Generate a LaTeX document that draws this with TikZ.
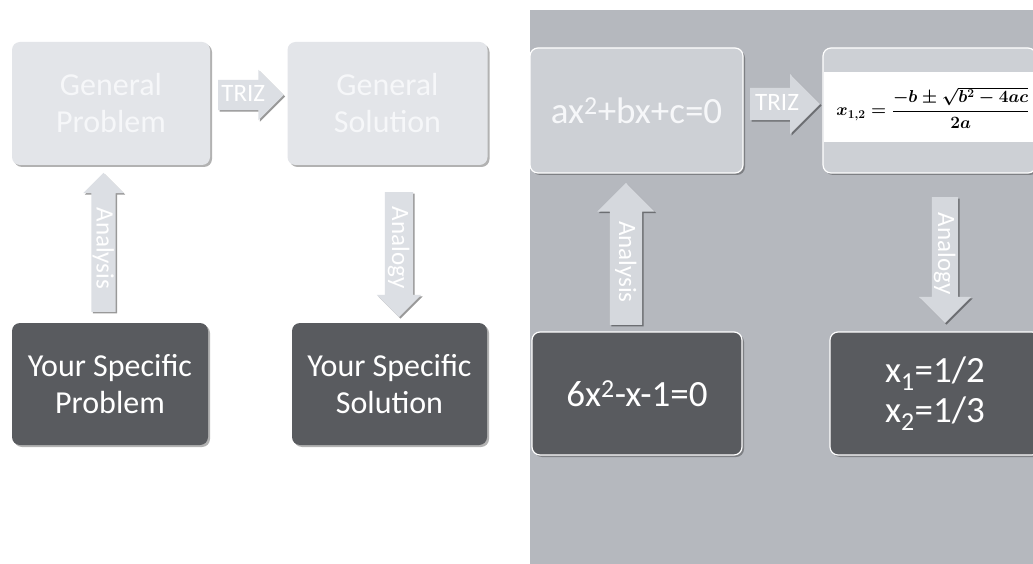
\documentclass[tikz,border=0pt]{standalone}
\usepackage{amsmath}
\usepackage{fontspec}
\setmainfont{Carlito}
\usetikzlibrary{shapes.arrows,shadows}

\definecolor{panelgray}{HTML}{B5B8BE}
\definecolor{paleL}{HTML}{E3E5E9}
\definecolor{paleR}{HTML}{CDD0D5}
\definecolor{darkfill}{HTML}{595B5F}
\definecolor{arrowL}{HTML}{DCDFE4}
\definecolor{arrowR}{HTML}{D5D8DD}
\definecolor{paletext}{HTML}{F6F7F9}

\newsavebox{\formulabox}

\tikzset{
  box/.style={rectangle, rounded corners=8pt, minimum width=200pt, minimum height=123pt,
    align=center, text=white, font=\fontsize{32}{37}\selectfont,
    drop shadow={shadow xshift=2pt, shadow yshift=-2pt, fill=black, opacity=.3}},
  palebox/.style={box, fill=paleL, text=paletext},
  darkbox/.style={box, fill=darkfill},
  framed/.style={draw=white, line width=1.2pt, font=\fontsize{37}{40}\selectfont},
  blockarrow/.style={single arrow, inner xsep=3pt, text height=16pt, text depth=2pt,
    text=white, font=\fontsize{25}{25}\selectfont,
    drop shadow={shadow xshift=1.5pt, shadow yshift=-1.5pt, fill=black, opacity=.4}},
}

\begin{document}
\sbox{\formulabox}{\fontsize{17}{20}\selectfont\boldmath
  $x_{1,2}=\dfrac{-b\pm\sqrt{b^2-4ac}}{2a}$}
\begin{tikzpicture}[x=1pt,y=-1pt]
  % Canvas and the grey panel on the right
  \useasboundingbox (0,0) rectangle (1033,564);
  \clip (0,0) rectangle (1033,564);
  \fill[white] (0,0) rectangle (1033,564);
  \fill[panelgray] (530,10) rectangle (1033,564);

  % Left panel: the general scheme
  \node[palebox, minimum width=198pt] (gp) at (111,103.5) {General\\Problem};
  \node[palebox] (gs) at (387.5,103.5) {General\\Solution};
  \node[darkbox, minimum width=196pt, minimum height=122pt] (sp) at (110,384) {Your Specific\\Problem};
  \node[darkbox, minimum width=195pt, minimum height=122pt] (ss) at (389.5,384) {Your Specific\\Solution};

  % Right panel: the quadratic equation
  \node[palebox, framed, fill=paleR, minimum width=213pt, minimum height=125pt] (eqg) at (636.5,110.5) {ax\textsuperscript{2}+bx+c=0};
  \node[palebox, framed, fill=paleR, minimum width=213pt, minimum height=125pt] (fg) at (929.5,110.5) {};
  \fill[white] (fg.west) ++(2,-38) rectangle ++(209,70);
  \node[inner sep=0pt] (fx) at (933,108) {\usebox{\formulabox}};
  \node[darkbox, framed, minimum width=210pt] (eqs) at (637,393.5) {6x\textsuperscript{2}-x-1=0};
  \node[darkbox, framed, minimum width=210pt] (rts) at (935,393.5) {x\textsubscript{1}=1/2\\x\textsubscript{2}=1/3};

  % Block arrows: name/tail x/tail y/length/shaft/head extend/border turn/turn/fill/label
  \foreach \name/\tx/\ty/\len/\shaft/\ext/\sbr/\rot/\col/\lbl in {
      trizL/218/95/64/30/10/0/0/arrowL/TRIZ,
      anaL/103.5/312/139/24/8/180/-90/arrowL/Analysis,
      anoL/399/192/125/28/8/0/-90/arrowL/Analogy,
      trizR/750/104/70/32/14/0/0/arrowR/TRIZ,
      anaR/626/325/142/32/12.5/180/-90/arrowR/Analysis,
      anoR/945/197/126/26/13/0/-90/arrowR/Analogy} {
    \pgfmathsetmacro{\ysep}{(\shaft-18)/2}
    \node[blockarrow, fill=\col, minimum height=\len pt, inner ysep=\ysep pt,
      single arrow head extend=\ext pt, shape border rotate=\sbr, rotate=\rot,
      anchor=tail] (\name) at (\tx,\ty) {\lbl};
  }
\end{tikzpicture}
\end{document}
